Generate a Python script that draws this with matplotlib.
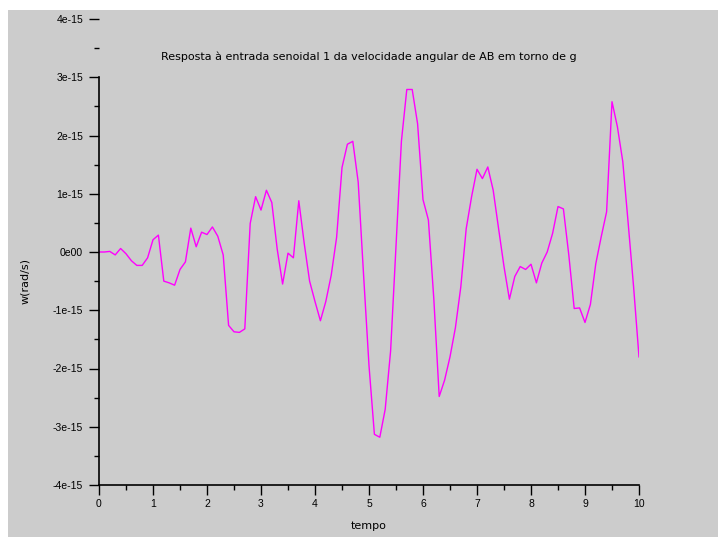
import numpy as np
import matplotlib
matplotlib.use("Agg")
import matplotlib.pyplot as plt
from matplotlib.patches import Rectangle
from matplotlib.ticker import MultipleLocator, FixedLocator

# time samples (step 0.1) and angular velocity in units of 1e-15 rad/s
tempo = np.round(np.arange(0, 10.01, 0.1), 1)
w_e15 = [
    0.00, 0.00, 0.01, -0.05, 0.06, -0.03, -0.15, -0.23, -0.23, -0.10,
    0.21, 0.29, -0.50, -0.53, -0.57, -0.30, -0.17, 0.41, 0.09, 0.34,
    0.30, 0.43, 0.27, -0.05, -1.26, -1.37, -1.38, -1.32, 0.49, 0.95,
    0.72, 1.06, 0.85, 0.05, -0.55, -0.02, -0.10, 0.88, 0.15, -0.50,
    -0.85, -1.18, -0.85, -0.40, 0.25, 1.45, 1.85, 1.90, 1.20, -0.40,
    -1.95, -3.13, -3.18, -2.70, -1.70, 0.10, 1.90, 2.79, 2.79, 2.20,
    0.90, 0.55, -0.80, -2.48, -2.20, -1.80, -1.30, -0.60, 0.40, 0.95,
    1.42, 1.26, 1.46, 1.06, 0.40, -0.25, -0.81, -0.42, -0.25, -0.30,
    -0.21, -0.53, -0.19, 0.00, 0.32, 0.78, 0.74, -0.05, -0.97, -0.96,
    -1.21, -0.90, -0.20, 0.26, 0.69, 2.58, 2.15, 1.55, 0.49, -0.60,
    -1.80,
]
w = np.array(w_e15) * 1e-15

y_ticks = [-4e-15, -3e-15, -2e-15, -1e-15, 0, 1e-15, 2e-15, 3e-15, 4e-15]
y_labels = ["-4e-15", "-3e-15", "-2e-15", "-1e-15", "0e00",
            "1e-15", "2e-15", "3e-15", "4e-15"]
titulo = "Resposta à entrada senoidal 1 da velocidade angular de AB em torno de g"

plt.rcParams['font.family'] = ['Liberation Sans', 'DejaVu Sans']

W, H = 718, 542
fig = plt.figure(figsize=(W / 100, H / 100), dpi=100)
fig.patch.set_facecolor('white')

# gray canvas behind the axes
bg = fig.add_axes([8 / W, 5 / H, (W - 8) / W, (H - 15) / H], zorder=-1)
bg.axis('off')
bg.add_patch(Rectangle((0, 0), 1, 1, transform=bg.transAxes, color='#cccccc'))

ax = fig.add_axes([99 / W, 1 - 485 / H, 540 / W, 466 / H])
ax.set_facecolor('none')
ax.plot(tempo, w, color='#ff00ff', lw=1.0)

ax.set_xlim(0, 10)
ax.set_ylim(-4e-15, 4e-15)
ax.xaxis.set_major_locator(MultipleLocator(1))
ax.xaxis.set_minor_locator(MultipleLocator(0.5))
ax.yaxis.set_major_locator(FixedLocator(y_ticks))
ax.yaxis.set_minor_locator(MultipleLocator(0.5e-15))
ax.set_yticklabels(y_labels)

for s in ['top', 'right']:
    ax.spines[s].set_visible(False)
ax.spines['left'].set_bounds(-4e-15, 3e-15)
ax.spines['left'].set_linewidth(1.2)
ax.spines['bottom'].set_linewidth(1.2)

ax.tick_params(which='major', direction='out', length=7, width=1, labelsize=7.5)
ax.tick_params(which='minor', direction='out', length=3.5, width=1)
ax.tick_params(axis='y', pad=4.5)
ax.tick_params(axis='x', pad=2.8)

ax.text(0.5, 0.918, titulo, transform=ax.transAxes, ha='center', va='center',
        fontsize=8, family='DejaVu Sans')
ax.set_xlabel("tempo", fontsize=8, family='DejaVu Sans', va='center')
ax.xaxis.set_label_coords(0.5, -0.088)
ax.set_ylabel("w(rad/s)", fontsize=8, family='DejaVu Sans', va='center')
ax.yaxis.set_label_coords(-0.137, 0.438)

fig.savefig("out.png", dpi=100)
